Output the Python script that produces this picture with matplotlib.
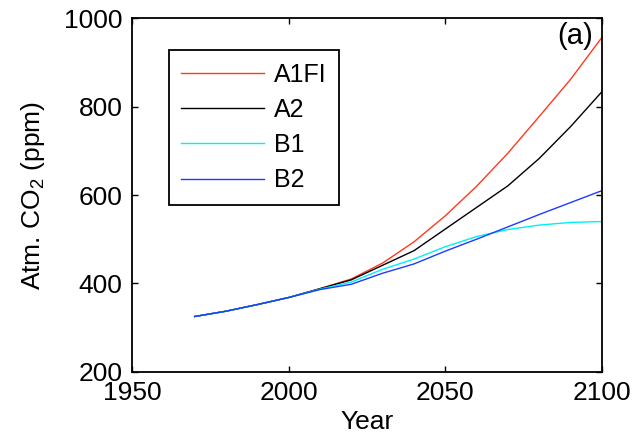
import matplotlib
matplotlib.use("Agg")
import matplotlib.pyplot as plt

plt.rcParams['font.family'] = ['Liberation Sans', 'DejaVu Sans']
plt.rcParams['mathtext.fontset'] = 'custom'
plt.rcParams['mathtext.rm'] = 'Liberation Sans'
plt.rcParams['mathtext.it'] = 'Liberation Sans'

# SRES scenarios, atmospheric CO2 (ppm)
years = [1970, 1980, 1990, 2000, 2010, 2020, 2030, 2040, 2050, 2060, 2070, 2080, 2090, 2100]
a1fi = [325, 337, 352, 368, 388, 410, 446, 494, 553, 620, 695, 778, 862, 957]
a2 = [325, 337, 352, 368, 388, 408, 441, 474, 523, 572, 621, 683, 755, 834]
b1 = [325, 337, 352, 368, 387, 403, 432, 455, 483, 506, 522, 532, 538, 540]
b2 = [325, 337, 352, 368, 386, 398, 423, 444, 473, 500, 528, 556, 583, 610]

names = ['A1FI', 'A2', 'B1', 'B2']
colors = ['#ff3a1e', 'k', '#00f0f0', '#1a3cff']

fig = plt.figure(figsize=(6.37, 4.42), dpi=100)
ax = fig.add_axes([0.2072, 0.159, 0.7378, 0.7995])

for vals, name, c in zip([a1fi, a2, b1, b2], names, colors):
    ax.plot(years, vals, color=c, lw=1.0, label=name)

ax.set_xlim(1950, 2100)
ax.set_ylim(200, 1000)
ax.set_xticks([1950, 2000, 2050, 2100])
ax.set_yticks([200, 400, 600, 800, 1000])
ax.tick_params(direction='in', top=True, right=True, length=4, width=1,
               labelsize=19)
ax.tick_params(axis='x', pad=7)
ax.tick_params(axis='y', pad=7)
for s in ax.spines.values():
    s.set_linewidth(1.3)

ax.set_xlabel('Year', fontsize=19, labelpad=3)
ax.set_ylabel('Atm. CO$_2$ (ppm)', fontsize=19, labelpad=12)

ax.text(0.98, 0.99, '(a)', transform=ax.transAxes, ha='right', va='top',
        fontsize=21)

leg = ax.legend(loc='upper left', bbox_to_anchor=(0.0787, 0.910),
                borderaxespad=0, fontsize=18, handlelength=3.3,
                handletextpad=0.4, borderpad=0.5, labelspacing=0.45,
                fancybox=False, framealpha=1, edgecolor='k')
leg.get_frame().set_linewidth(1.3)

fig.savefig('out.png', dpi=100)
